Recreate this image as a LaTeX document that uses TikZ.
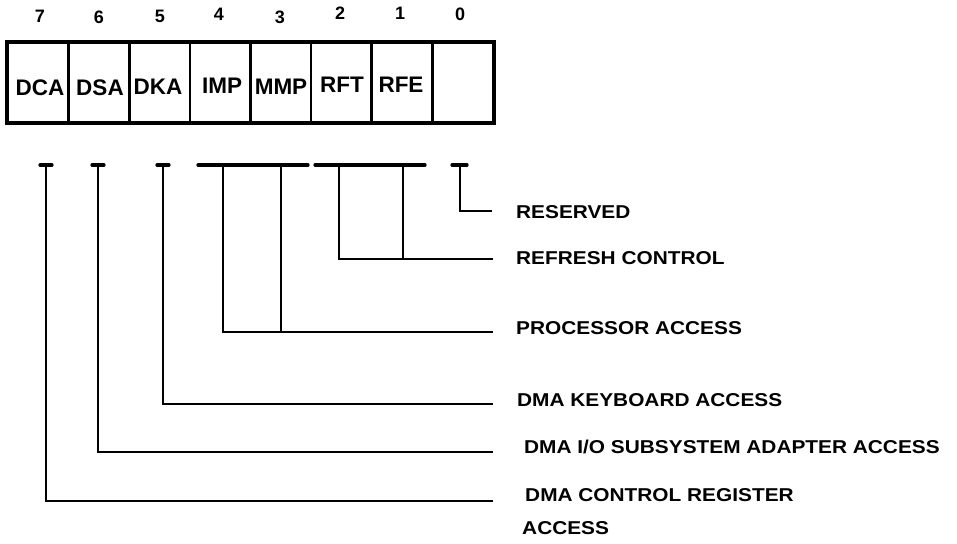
\documentclass[tikz,border=0pt]{standalone}
\usepackage{fontspec}
\setmainfont{Liberation Sans}
\newcommand{\wlbl}[1]{\scalebox{1.12}[1]{#1}}
\begin{document}
\begin{tikzpicture}[x=1pt,y=-1pt,
  cellbox/.style={draw, line width=2.5pt, minimum width=60.6pt, minimum height=79pt, inner sep=0pt},
  celltxt/.style={font=\fontsize{22.5}{22}\selectfont\bfseries, inner sep=0pt},
  bitnum/.style={font=\fontsize{18}{18}\selectfont\bfseries, inner sep=0pt},
  desc/.style={font=\fontsize{18.6}{19}\selectfont\bfseries, inner sep=0pt, anchor=base west},
  conn/.style={line width=2.4pt},
  tbar/.style={line width=3.2pt, line cap=round}]
\useasboundingbox (0,0) rectangle (957,543);
% register cells
\foreach \i/\n in {0/7,1/6,2/5,3/4,4/3,5/2,6/1,7/0}{
  \node[cellbox] (c\n) at ({8+60.625*(\i+0.5)},82.5) {};
}
\draw[line width=3.2pt] (c7.north west) rectangle (c0.south east);
% cell labels
\node[celltxt] (l7) at (40,88) {DCA};
\node[celltxt] (l6) at (100,88) {DSA};
\node[celltxt] (l5) at (158,87) {DKA};
\node[celltxt] (l4) at (222,86) {IMP};
\node[celltxt] (l3) at (281,87) {MMP};
\node[celltxt] (l2) at (342,85) {RFT};
\node[celltxt] (l1) at (401,85) {RFE};
% bit numbers
\node[bitnum] (n7) at (40,16) {7};
\node[bitnum] (n6) at (99,17) {6};
\node[bitnum] (n5) at (160,16) {5};
\node[bitnum] (n4) at (219,14) {4};
\node[bitnum] (n3) at (280,17) {3};
\node[bitnum] (n2) at (340,13) {2};
\node[bitnum] (n1) at (400,13) {1};
\node[bitnum] (n0) at (460,14) {0};
% description labels
\node[desc] (d0) at (516,218.5) {\wlbl{RESERVED}};
\node[desc] (d21) at (516,264.5) {\wlbl{REFRESH CONTROL}};
\node[desc] (d43) at (516,334.5) {\wlbl{PROCESSOR ACCESS}};
\node[desc] (d5) at (517,406.5) {\wlbl{DMA KEYBOARD ACCESS}};
\node[desc] (d6) at (524,453.5) {\wlbl{DMA I/O SUBSYSTEM ADAPTER ACCESS}};
\node[desc] (d7) at (525,501.5) {\wlbl{DMA CONTROL REGISTER}};
\node[desc] (d7b) at (522,534.5) {\wlbl{ACCESS}};
% connector points
\coordinate (t0) at (460,165);
\coordinate (t2) at (339,165);
\coordinate (t1) at (403,165);
\coordinate (t4) at (223,165);
\coordinate (t3) at (281,165);
\coordinate (t5) at (163,165);
\coordinate (t6) at (98,165);
\coordinate (t7) at (46,165);
\coordinate (e0) at (492,211);
\coordinate (e21) at (493,259);
\coordinate (e43) at (493,332);
\coordinate (e5) at (493,404);
\coordinate (e6) at (493,452);
\coordinate (e7) at (493,501);
% T bars
\draw[tbar] ([xshift=-8pt]t0) -- ([xshift=7pt]t0);
\draw[tbar] ([xshift=-24pt]t2) -- ([xshift=22pt]t1);
\draw[tbar] ([xshift=-25pt]t4) -- ([xshift=27pt]t3);
\draw[tbar] ([xshift=-6pt]t5) -- ([xshift=6pt]t5);
\draw[tbar] ([xshift=-6pt]t6) -- ([xshift=6pt]t6);
\draw[tbar] ([xshift=-6pt]t7) -- ([xshift=6pt]t7);
% connectors
\draw[conn] (t0) |- (e0);
\draw[conn] (t2) |- (e21);
\draw[conn] (t1) -- (t1 |- e21);
\draw[conn] (t4) |- (e43);
\draw[conn] (t3) -- (t3 |- e43);
\draw[conn] (t5) |- (e5);
\draw[conn] (t6) |- (e6);
\draw[conn] (t7) |- (e7);
\end{tikzpicture}
\end{document}
